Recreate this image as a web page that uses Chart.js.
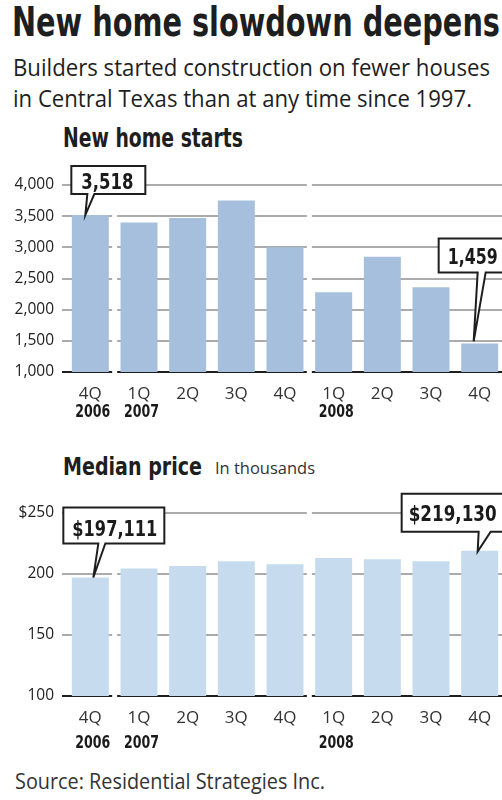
<!DOCTYPE html>
<html>
<head>
<meta charset="utf-8">
<script src="https://cdn.jsdelivr.net/npm/chart.js@4.4.1/dist/chart.umd.min.js"></script>
<style>
  html, body { margin: 0; padding: 0; width: 502px; height: 800px; overflow: hidden; background: #fff; }
  .t { position: absolute; white-space: nowrap; line-height: 1; color: #1e1e1e; transform-origin: 0 0; }
  .cond { font-family: 'Liberation Sans Narrow', 'DejaVu Sans Condensed', sans-serif; font-weight: bold; }
  .sans { font-family: 'Open Sans', sans-serif; }
  .box { position: absolute; left: 0; width: 504px; }
</style>
</head>
<body>
<div class="t cond" data-w="488" style="left:12px;top:2px;font-size:41px">New home slowdown deepens</div>
<div class="t sans" data-w="477" style="left:13px;top:55px;font-size:24px">Builders started construction on fewer houses</div>
<div class="t sans" data-w="459" style="left:13px;top:86px;font-size:24px">in Central Texas than at any time since 1997.</div>
<div class="t cond" data-w="180" style="left:63px;top:125px;font-size:26px">New home starts</div>
<div class="box" style="top:160px;height:260px"><canvas id="starts"></canvas></div>
<div class="t cond" data-w="139" style="left:63px;top:454px;font-size:25px">Median price</div>
<div class="t sans" data-w="100" style="left:215px;top:461px;font-size:15.5px;color:#333">In thousands</div>
<div class="box" style="top:485px;height:275px"><canvas id="price"></canvas></div>
<div class="t sans" data-w="310" style="left:15px;top:771px;font-size:21px;color:#333">Source: Residential Strategies Inc.</div>

<script>
// data
const quarters = ['4Q', '1Q', '2Q', '3Q', '4Q', '1Q', '2Q', '3Q', '4Q'];
const years = ['2006', '2007', '', '', '', '2008', '', '', ''];
const starts = [3518, 3400, 3470, 3750, 3000, 2280, 2850, 2360, 1459];
const prices = [197.111, 204.5, 206.6, 210.5, 208, 213.2, 212.1, 210.5, 219.13]; // thousands
const startsTicks = [1000, 1500, 2000, 2500, 3000, 3500, 4000];
const startsTickLabels = ['1,000', '1,500', '2,000', '2,500', '3,000', '3,500', '4,000'];
const priceTicks = [100, 150, 200, 250];
const priceTickLabels = ['100', '150', '200', '$250'];

// squeeze the html texts to the widths in the picture
function fitTexts() {
  document.querySelectorAll('[data-w]').forEach(el => {
    el.style.transform = 'none';
    const w = el.getBoundingClientRect().width;
    el.style.transform = 'scaleX(' + (el.dataset.w / w) + ')';
  });
}
fitTexts();
if (document.fonts) document.fonts.ready.then(fitTexts);

Chart.defaults.font.family = "'Open Sans', sans-serif";
Chart.defaults.color = '#222';

const condFont = "'Liberation Sans Narrow', 'DejaVu Sans Condensed', sans-serif";

// draw text squeezed to a given width (no condensed font installed)
function fitText(ctx, text, x, y, w) {
  const natural = ctx.measureText(text).width;
  ctx.save();
  ctx.translate(x, y);
  ctx.scale(w / natural, 1);
  ctx.fillText(text, 0, 0);
  ctx.restore();
}

const yearPlugin = {
  id: 'years',
  beforeDatasetsDraw(chart) {
    // white gaps in the grid between years
    const x = chart.scales.x, area = chart.chartArea, ctx = chart.ctx;
    ctx.save();
    ctx.fillStyle = '#fff';
    years.forEach((y, i) => {
      if (i === 0 || !y) return;
      const gx = (x.getPixelForTick(i - 1) + x.getPixelForTick(i)) / 2;
      ctx.fillRect(gx - 2.5, area.top - 3, 5, area.bottom - area.top + 6);
    });
    ctx.restore();
  },
  afterDraw(chart, args, opts) {
    const x = chart.scales.x, ctx = chart.ctx;
    ctx.save();
    ctx.font = 'bold 18px ' + condFont;
    ctx.fillStyle = '#1a1a1a';
    ctx.textBaseline = 'alphabetic';
    years.forEach((y, i) => {
      if (y) fitText(ctx, y, x.getPixelForTick(i) - 15, opts.y, 35);
    });
    ctx.restore();
  }
};

const calloutPlugin = {
  id: 'callouts',
  afterDraw(chart, args, opts) {
    const meta = chart.getDatasetMeta(0), ctx = chart.ctx;
    const values = chart.data.datasets[0].data;
    opts.items.forEach(c => {
      const bar = meta.data[c.index];
      const tx = bar.x + c.tip[0], ty = bar.y + c.tip[1];
      const left = bar.x + c.box[0], bottom = bar.y + c.box[1];
      const right = left + c.box[2], top = bottom - c.box[3];
      ctx.save();
      ctx.beginPath();
      ctx.moveTo(bar.x + c.base[0], bottom);
      ctx.lineTo(left, bottom);
      ctx.lineTo(left, top);
      ctx.lineTo(right, top);
      ctx.lineTo(right, bottom);
      ctx.lineTo(bar.x + c.base[1], bottom);
      ctx.lineTo(tx, ty);
      ctx.closePath();
      ctx.fillStyle = '#fff';
      ctx.fill();
      ctx.lineWidth = 2;
      ctx.strokeStyle = '#1e1e1e';
      ctx.stroke();
      const text = opts.prefix + Math.round(values[c.index] * opts.mult).toLocaleString('en-US');
      ctx.font = 'bold 21px ' + condFont;
      ctx.fillStyle = '#1a1a1a';
      ctx.textBaseline = 'alphabetic';
      fitText(ctx, text, left + c.pad, (top + bottom) / 2 + c.dy, c.tw);
      ctx.restore();
    });
  }
};

function makeChart(id, values, color, tickVals, tickLabels, o) {
  return new Chart(document.getElementById(id), {
    type: 'bar',
    data: {
      labels: quarters,
      datasets: [{ data: values, backgroundColor: color, barPercentage: 0.76, categoryPercentage: 1 }]
    },
    options: {
      responsive: true,
      maintainAspectRatio: false,
      animation: false,
      events: [],
      layout: { padding: { top: o.top, left: 0, right: 0, bottom: 0 } },
      plugins: {
        legend: { display: false },
        tooltip: { enabled: false },
        years: { y: o.yearY },
        callouts: o.callouts
      },
      scales: {
        x: {
          grid: { display: false },
          border: { display: false },
          ticks: { font: { size: 17 }, color: '#333', padding: o.qPad, maxRotation: 0 },
          afterFit: s => { s.height = o.xH; }
        },
        y: {
          min: tickVals[0],
          max: tickVals[tickVals.length - 1],
          afterBuildTicks: s => { s.ticks = tickVals.map(v => ({ value: v })); },
          border: { display: false },
          grid: {
            color: ctx => ctx.tick.value === tickVals[0] ? '#1e1e1e' : '#ababab',
            lineWidth: 2,
            tickLength: 4
          },
          ticks: {
            font: { size: 15.5 },
            color: '#222',
            padding: 8,
            callback: (v, i) => tickLabels[i]
          },
          afterFit: s => { s.width = 66; }
        }
      }
    },
    plugins: [yearPlugin, calloutPlugin]
  });
}

makeChart('starts', starts, '#a5bfdc', startsTicks, startsTickLabels, {
  top: 25, xH: 48, qPad: 4, yearY: 257,
  callouts: {
    prefix: '', mult: 1,
    items: [
      { index: 0, tip: [-5, 0], box: [-19, -21, 74, 28], base: [-3, 4], pad: 10, tw: 52, dy: 9 },
      { index: 8, tip: [-6, -2], box: [-41, -71, 80, 34], base: [-2, 6], pad: 9, tw: 50, dy: 9 }
    ]
  }
});

makeChart('price', prices, '#c6dcee', priceTicks, priceTickLabels, {
  top: 28, xH: 64, qPad: 4, yearY: 263,
  callouts: {
    prefix: '$', mult: 1000,
    items: [
      { index: 0, tip: [3, 0], box: [-27, -34, 101, 36], base: [8, 15], pad: 9, tw: 85, dy: 10 },
      { index: 8, tip: [-2, 1], box: [-78, -19, 110, 38], base: [-1, 11], pad: 7, tw: 88, dy: 8 }
    ]
  }
});
</script>
</body>
</html>
